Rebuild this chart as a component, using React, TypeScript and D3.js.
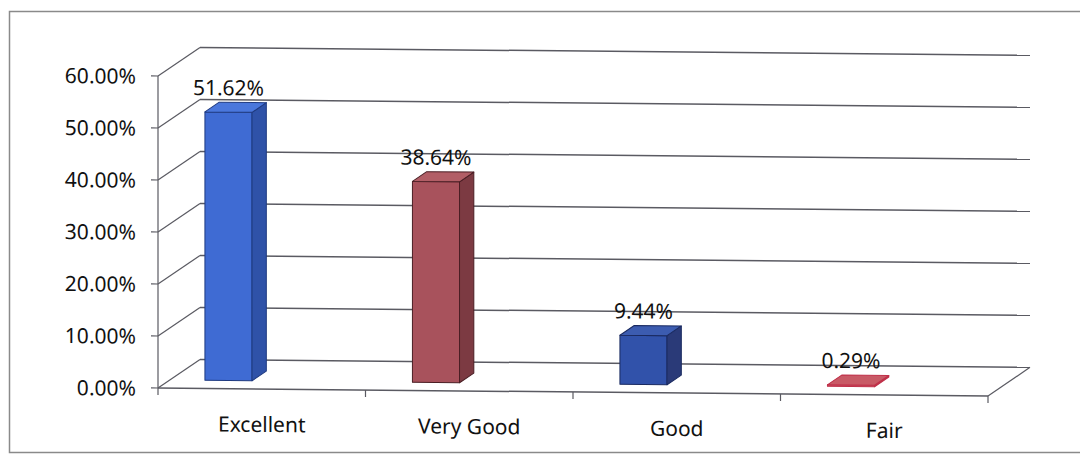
import * as d3 from 'd3'

const categories = ['Excellent', 'Very Good', 'Good', 'Fair']
const values = [51.62, 38.64, 9.44, 0.29]
const yTicks = [0, 10, 20, 30, 40, 50, 60]

// per-bar face colours: front, top, side, outline
const barFront = ['#3f6bd3', '#a8525c', '#3152aa', '#c85a66']
const barTop = ['#4a77dc', '#b25e66', '#3c5cb0', '#c85a66']
const barSide = ['#2f52a8', '#7c3a42', '#2a3a78', '#a8404c']
const barStroke = ['#1f3a80', '#4a1e24', '#1a2a60', '#c0304a']

const W = 1080
const H = 456

// 3D wall depth offset
const DX = 42
const DY = -29
const zFront = 0.28
const zBack = 0.62

export default function App() {
  const x = d3.scaleBand<string>().domain(categories).range([158, 988]).padding(0)
  const y = d3.scaleLinear().domain([0, 60]).range([388, 76])
  const fmt = (v: number) => v.toFixed(2) + '%'

  const bw = x.bandwidth()
  const barW = bw * 0.227
  const barShift = -bw * 0.217

  const font = '"Noto Sans", "Open Sans", sans-serif'
  const fs = 21
  const grid = '#5a5a62'

  const proj = (px: number, py: number, z: number): [number, number] => [px + z * DX, py + z * DY]
  const pts = (arr: [number, number][]) => arr.map(p => p.join(',')).join(' ')

  return (
    <div style={{ position: 'fixed', left: 0, top: 0, width: W, height: H, background: '#fff' }}>
      <svg width={W} height={H} style={{ display: 'block' }}>
        <rect x={9.5} y={11.5} width={1090} height={441} fill="none" stroke="#8a8a8a" strokeWidth={1.5} />
        {/* the scan is slightly sheared */}
        <g transform="translate(158,0) skewY(0.55) translate(-158,0)">
          {/* back wall gridlines + side wall diagonals */}
          {yTicks.map(t => {
            const [bx, by] = proj(158, y(t), 1)
            return (
              <g key={t}>
                <line x1={bx} y1={by} x2={988 + DX} y2={by} stroke={grid} strokeWidth={1.5} />
                <line x1={158} y1={y(t)} x2={bx} y2={by} stroke={grid} strokeWidth={1.2} />
                <line x1={151} y1={y(t)} x2={158} y2={y(t)} stroke={grid} strokeWidth={1.2} />
                <text x={136} y={y(t)} textAnchor="end" dominantBaseline="central" fontFamily={font} fontSize={fs} fill="#111">
                  {fmt(t)}
                </text>
              </g>
            )
          })}

          {/* y axis line */}
          <line x1={158} y1={y(0)} x2={158} y2={y(60)} stroke={grid} strokeWidth={1.2} />
          {/* floor front + right edge */}
          <line x1={158} y1={y(0)} x2={988} y2={y(0)} stroke={grid} strokeWidth={1.5} />
          <line x1={988} y1={y(0)} x2={988 + DX} y2={y(0) + DY} stroke={grid} strokeWidth={1.2} />

          {/* category ticks */}
          {[...categories.map(c => x(c) as number), 988].map((tx, i) => (
            <line key={i} x1={tx} y1={y(0)} x2={tx} y2={y(0) + 7} stroke={grid} strokeWidth={1.2} />
          ))}

          {categories.map(c => (
            <text key={c} x={(x(c) as number) + bw / 2} y={423} textAnchor="middle" dominantBaseline="central" fontFamily={font} fontSize={fs} fill="#111">
              {c}
            </text>
          ))}

          {/* bars */}
          {categories.map((c, i) => {
            const x0 = (x(c) as number) + bw / 2 + barShift - barW / 2
            const x1 = x0 + barW
            const yt = y(values[i])
            const yb = y(0)
            const fTL = proj(x0, yt, zFront)
            const fTR = proj(x1, yt, zFront)
            const fBR = proj(x1, yb, zFront)
            const fBL = proj(x0, yb, zFront)
            const bTL = proj(x0, yt, zBack)
            const bTR = proj(x1, yt, zBack)
            const bBR = proj(x1, yb, zBack)
            const labX = proj((x0 + x1) / 2, yt, zFront)[0]
            const labY = proj((x0 + x1) / 2, yt, zBack)[1]
            return (
              <g key={c} strokeLinejoin="round">
                <polygon points={pts([fTL, fTR, fBR, fBL])} fill={barFront[i]} stroke={barStroke[i]} strokeWidth={1} />
                <polygon points={pts([fTR, bTR, bBR, fBR])} fill={barSide[i]} stroke={barStroke[i]} strokeWidth={1} />
                <polygon points={pts([fTL, bTL, bTR, fTR])} fill={barTop[i]} stroke={barStroke[i]} strokeWidth={1} />
                <text x={labX} y={labY - 7} textAnchor="middle" fontFamily={font} fontSize={fs} fill="#111">
                  {fmt(values[i])}
                </text>
              </g>
            )
          })}
        </g>
      </svg>
    </div>
  )
}
